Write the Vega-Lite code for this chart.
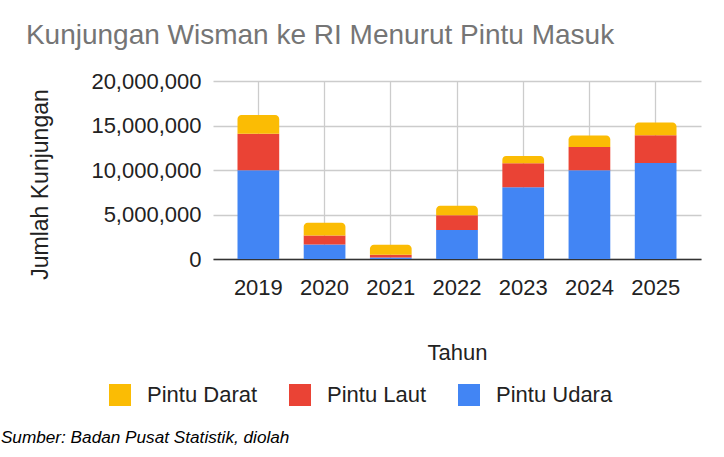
{
  "$schema": "https://vega.github.io/schema/vega-lite/v6.json",
  "description": "Kunjungan wisman ke RI menurut pintu masuk, 2019-2025",
  "background": "white",
  "padding": {"left": 0, "top": 22, "right": 5, "bottom": 5},
  "title": {
    "text": "Sumber: Badan Pusat Statistik, diolah",
    "orient": "bottom",
    "anchor": "start",
    "font": "Liberation Sans",
    "fontSize": 17.2,
    "fontStyle": "italic",
    "fontWeight": "normal",
    "color": "#000000",
    "offset": 23,
    "dx": -25
  },
  "vconcat": [
    {
      "title": {
        "text": "Kunjungan Wisman ke RI Menurut Pintu Masuk",
        "anchor": "start",
        "font": "Liberation Sans",
        "fontSize": 28,
        "fontWeight": "normal",
        "color": "#757575",
        "offset": 20,
        "dx": -4
      },
      "width": 488,
      "height": 178,
      "data": {
        "values": [
          {"tahun": "2019", "pintu": "Pintu Udara", "jumlah": 9960000},
          {"tahun": "2019", "pintu": "Pintu Laut", "jumlah": 4100000},
          {"tahun": "2019", "pintu": "Pintu Darat", "jumlah": 2110000},
          {"tahun": "2020", "pintu": "Pintu Udara", "jumlah": 1620000},
          {"tahun": "2020", "pintu": "Pintu Laut", "jumlah": 1010000},
          {"tahun": "2020", "pintu": "Pintu Darat", "jumlah": 1430000},
          {"tahun": "2021", "pintu": "Pintu Udara", "jumlah": 170000},
          {"tahun": "2021", "pintu": "Pintu Laut", "jumlah": 310000},
          {"tahun": "2021", "pintu": "Pintu Darat", "jumlah": 1110000},
          {"tahun": "2022", "pintu": "Pintu Udara", "jumlah": 3270000},
          {"tahun": "2022", "pintu": "Pintu Laut", "jumlah": 1650000},
          {"tahun": "2022", "pintu": "Pintu Darat", "jumlah": 1060000},
          {"tahun": "2023", "pintu": "Pintu Udara", "jumlah": 8050000},
          {"tahun": "2023", "pintu": "Pintu Laut", "jumlah": 2700000},
          {"tahun": "2023", "pintu": "Pintu Darat", "jumlah": 830000},
          {"tahun": "2024", "pintu": "Pintu Udara", "jumlah": 9960000},
          {"tahun": "2024", "pintu": "Pintu Laut", "jumlah": 2630000},
          {"tahun": "2024", "pintu": "Pintu Darat", "jumlah": 1280000},
          {"tahun": "2025", "pintu": "Pintu Udara", "jumlah": 10790000},
          {"tahun": "2025", "pintu": "Pintu Laut", "jumlah": 3120000},
          {"tahun": "2025", "pintu": "Pintu Darat", "jumlah": 1430000}
        ]
      },
      "transform": [
        {
          "stack": "jumlah",
          "groupby": ["tahun"],
          "sort": [{"field": "pintu", "order": "descending"}],
          "as": ["bawah", "atas"]
        }
      ],
      "encoding": {
        "x": {
          "field": "tahun",
          "type": "ordinal",
          "scale": {"paddingInner": 0.37, "paddingOuter": 0.37},
          "axis": {
            "title": "Tahun",
            "labelAngle": 0,
            "labelPadding": 18,
            "titlePadding": 44,
            "bandPosition": 0.5,
            "grid": true,
            "ticks": false,
            "domainColor": "#333333",
            "domainWidth": 1.5
          }
        },
        "y": {
          "field": "bawah",
          "type": "quantitative",
          "scale": {"domain": [0, 20000000], "nice": false},
          "axis": {
            "title": "Jumlah Kunjungan",
            "titleFontSize": 23,
            "titleY": 103,
            "tickCount": 5,
            "format": ",d",
            "labelPadding": 12,
            "titlePadding": 38,
            "domain": false,
            "ticks": false
          }
        },
        "y2": {"field": "atas"},
        "color": {
          "field": "pintu",
          "type": "nominal",
          "scale": {
            "domain": ["Pintu Darat", "Pintu Laut", "Pintu Udara"],
            "range": ["#fbbc04", "#ea4335", "#4285f4"]
          },
          "legend": {
            "title": null,
            "orient": "none",
            "legendX": -104,
            "legendY": 303,
            "padding": 0,
            "direction": "horizontal",
            "symbolType": "square",
            "symbolSize": 484,
            "symbolStrokeWidth": 0,
            "symbolOpacity": 1,
            "labelOffset": 16,
            "columnPadding": 31
          }
        }
      },
      "layer": [
        {
          "transform": [{"filter": "datum.pintu != 'Pintu Darat'"}],
          "mark": {"type": "bar"}
        },
        {
          "transform": [{"filter": "datum.pintu == 'Pintu Darat'"}],
          "mark": {"type": "bar", "cornerRadiusTopLeft": 4, "cornerRadiusTopRight": 4}
        }
      ]
    }
  ],
  "config": {
    "font": "Liberation Sans",
    "view": {"stroke": null},
    "axis": {
      "labelFont": "Liberation Sans",
      "labelFontSize": 22,
      "labelColor": "#222222",
      "titleFont": "Liberation Sans",
      "titleFontSize": 22,
      "titleFontWeight": "normal",
      "titleColor": "#222222",
      "gridColor": "#cccccc",
      "gridWidth": 1.3
    },
    "legend": {
      "labelFont": "Liberation Sans",
      "labelFontSize": 22,
      "labelColor": "#222222"
    }
  }
}
